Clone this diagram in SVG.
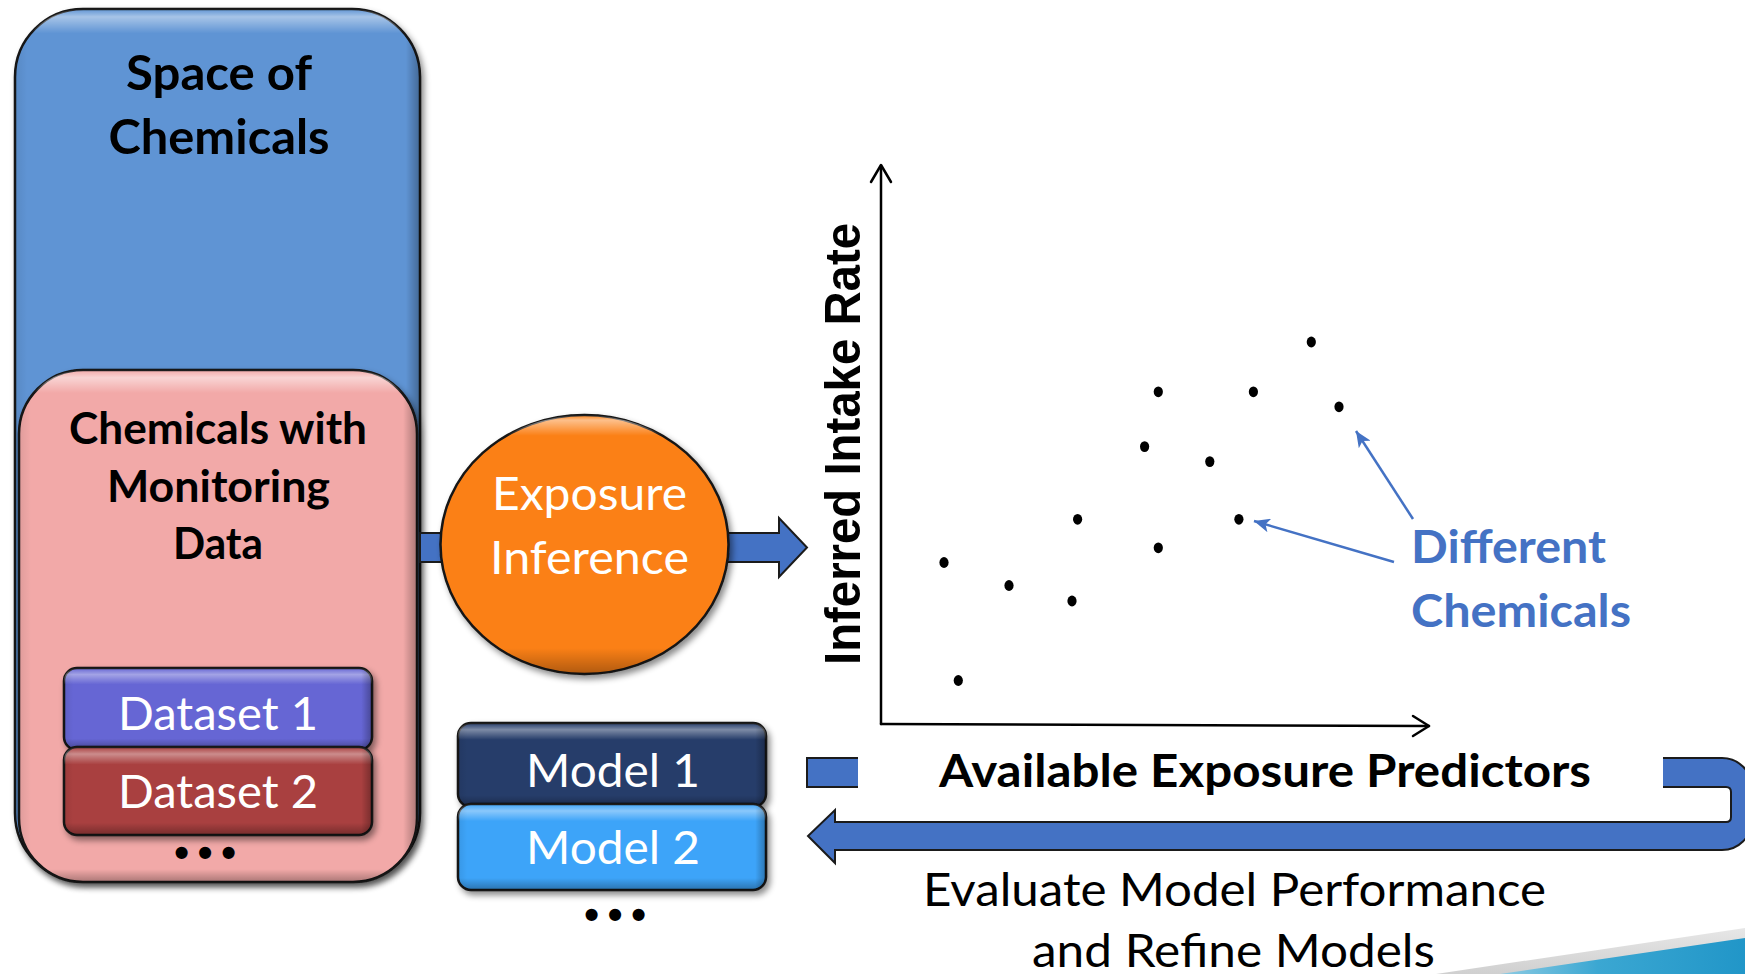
<svg xmlns="http://www.w3.org/2000/svg" width="1745" height="974" viewBox="0 0 1745 974">
<defs>
<style>
.t{font-family:Lato,"Open Sans","Liberation Sans",sans-serif}
.b{font-weight:700}
.w{fill:#ffffff}
.k{fill:#000000}
.more{font-family:"Liberation Sans",Arial,sans-serif;font-weight:700;font-size:42px;letter-spacing:8.8px;fill:#000}
.box{stroke:#151515;stroke-width:2.5}
.ax{fill:none;stroke:#000;stroke-width:2.5;stroke-linecap:round;stroke-linejoin:round}
.arr{fill:#4472C4;stroke:#1b1b1b;stroke-width:2;stroke-linejoin:miter}
.ann{fill:none;stroke:#4472C4;stroke-width:2.5}
.dot{fill:#000}
</style>
<filter id="sh" x="-10%" y="-10%" width="125%" height="125%">
<feDropShadow dx="3" dy="4" stdDeviation="3" flood-color="#000" flood-opacity="0.45"/>
</filter>
<linearGradient id="gTall" x1="0" y1="0" x2="0" y2="1">
<stop offset="0" stop-color="#fff" stop-opacity="0"/>
<stop offset="0.009" stop-color="#fff" stop-opacity="0.45"/>
<stop offset="0.028" stop-color="#fff" stop-opacity="0"/>
<stop offset="0.985" stop-color="#000" stop-opacity="0"/>
<stop offset="1" stop-color="#000" stop-opacity="0.3"/>
</linearGradient>
<linearGradient id="gMid" x1="0" y1="0" x2="0" y2="1">
<stop offset="0" stop-color="#fff" stop-opacity="0"/>
<stop offset="0.015" stop-color="#fff" stop-opacity="0.5"/>
<stop offset="0.045" stop-color="#fff" stop-opacity="0"/>
<stop offset="0.975" stop-color="#000" stop-opacity="0"/>
<stop offset="1" stop-color="#000" stop-opacity="0.3"/>
</linearGradient>
<linearGradient id="gShort" x1="0" y1="0" x2="0" y2="1">
<stop offset="0" stop-color="#fff" stop-opacity="0"/>
<stop offset="0.08" stop-color="#fff" stop-opacity="0.4"/>
<stop offset="0.2" stop-color="#fff" stop-opacity="0"/>
<stop offset="0.86" stop-color="#000" stop-opacity="0"/>
<stop offset="1" stop-color="#000" stop-opacity="0.3"/>
</linearGradient>
<linearGradient id="gR" x1="0" y1="0" x2="1" y2="0">
<stop offset="0" stop-color="#000" stop-opacity="0.08"/>
<stop offset="0.03" stop-color="#000" stop-opacity="0"/>
<stop offset="0.965" stop-color="#000" stop-opacity="0"/>
<stop offset="1" stop-color="#000" stop-opacity="0.3"/>
</linearGradient>
<linearGradient id="gEll" x1="0" y1="0" x2="0" y2="1">
<stop offset="0" stop-color="#fff" stop-opacity="0"/>
<stop offset="0.02" stop-color="#fff" stop-opacity="0.5"/>
<stop offset="0.08" stop-color="#fff" stop-opacity="0"/>
<stop offset="0.9" stop-color="#000" stop-opacity="0"/>
<stop offset="1" stop-color="#000" stop-opacity="0.3"/>
</linearGradient>
<linearGradient id="gTeal" x1="1500" y1="0" x2="1745" y2="0" gradientUnits="userSpaceOnUse">
<stop offset="0" stop-color="#8CCBE3"/>
<stop offset="0.4" stop-color="#3BA7D2"/>
<stop offset="1" stop-color="#2196C8"/>
</linearGradient>
<linearGradient id="gGrey" x1="0" y1="930" x2="0" y2="974" gradientUnits="userSpaceOnUse">
<stop offset="0" stop-color="#E6E6E6"/>
<stop offset="1" stop-color="#D0D0D0"/>
</linearGradient>
<marker id="ah" markerUnits="userSpaceOnUse" markerWidth="18" markerHeight="14" refX="16" refY="7" orient="auto">
<path d="M0,0 L16,7 L0,14 L4,7 Z" fill="#4472C4"/>
</marker>
</defs>

<g id="space-of-chemicals">
<rect class="box" x="15" y="9" width="405" height="872" rx="68" fill="#5F94D4" filter="url(#sh)"/>
<rect x="15" y="9" width="405" height="872" rx="68" fill="url(#gTall)"/>
<rect x="15" y="9" width="405" height="872" rx="68" fill="url(#gR)"/>
<text class="t b k" font-size="48" text-anchor="middle" x="219" y="90" textLength="186" lengthAdjust="spacingAndGlyphs">Space of</text>
<text class="t b k" font-size="48" text-anchor="middle" x="219" y="154" textLength="221" lengthAdjust="spacingAndGlyphs">Chemicals</text>
</g>

<g id="monitoring-data">
<rect class="box" x="19" y="370" width="398" height="512" rx="64" fill="#F2A9A8" filter="url(#sh)"/>
<rect x="19" y="370" width="398" height="512" rx="64" fill="url(#gMid)"/>
<rect x="19" y="370" width="398" height="512" rx="64" fill="url(#gR)"/>
<text class="t b k" font-size="43" text-anchor="middle" x="218" y="444" textLength="298" lengthAdjust="spacingAndGlyphs">Chemicals with</text>
<text class="t b k" font-size="43" text-anchor="middle" x="218.5" y="502" textLength="223" lengthAdjust="spacingAndGlyphs">Monitoring</text>
<text class="t b k" font-size="43" text-anchor="middle" x="218" y="559" textLength="90" lengthAdjust="spacingAndGlyphs">Data</text>
</g>

<g id="dataset-1">
<rect class="box" x="64" y="668" width="308" height="82" rx="13" fill="#6666D4" filter="url(#sh)"/>
<rect x="64" y="668" width="308" height="82" rx="13" fill="url(#gShort)"/>
<rect x="64" y="668" width="308" height="82" rx="13" fill="url(#gR)"/>
<text class="t w" font-size="46" text-anchor="middle" x="218" y="730" textLength="200" lengthAdjust="spacingAndGlyphs">Dataset 1</text>
</g>

<g id="dataset-2">
<rect class="box" x="64" y="747" width="308" height="88" rx="13" fill="#A94141" filter="url(#sh)"/>
<rect x="64" y="747" width="308" height="88" rx="13" fill="url(#gShort)"/>
<rect x="64" y="747" width="308" height="88" rx="13" fill="url(#gR)"/>
<text class="t w" font-size="46" text-anchor="middle" x="218" y="808" textLength="200" lengthAdjust="spacingAndGlyphs">Dataset 2</text>
</g>

<g id="dataset-more">
<text class="more" text-anchor="middle" x="209.4" y="867">•••</text>
</g>

<g id="connectors">
<path id="to-plot" class="arr" d="M420 533 L779 533 L779 518 L807 547.5 L779 577 L779 562 L420 562 Z"/>
<path id="feedback" class="arr" d="M807 758 L1722 758 A30 30 0 0 1 1752 788 L1752 820 A30 30 0 0 1 1722 850 L835 850 L835 863 L808 836 L835 810 L835 822 L1726 822 Q1731 822 1731 817 L1731 792 Q1731 787 1726 787 L807 787 Z"/>
<line id="ann-1" class="ann" x1="1394" y1="562" x2="1254" y2="521" marker-end="url(#ah)"/>
<line id="ann-2" class="ann" x1="1413" y1="519" x2="1356" y2="431" marker-end="url(#ah)"/>
</g>

<g id="exposure-inference">
<ellipse class="box" cx="584.5" cy="544.5" rx="144" ry="129.5" fill="#FB8016" stroke-width="2" filter="url(#sh)"/>
<ellipse cx="584.5" cy="544.5" rx="144" ry="129.5" fill="url(#gEll)"/>
<text class="t w" font-size="46" text-anchor="middle" x="589.5" y="510" textLength="195" lengthAdjust="spacingAndGlyphs">Exposure</text>
<text class="t w" font-size="46" text-anchor="middle" x="589.5" y="574" textLength="199" lengthAdjust="spacingAndGlyphs">Inference</text>
</g>

<g id="model-1">
<rect class="box" x="458" y="723" width="308" height="84" rx="13" fill="#263E6B" filter="url(#sh)"/>
<rect x="458" y="723" width="308" height="84" rx="13" fill="url(#gShort)"/>
<rect x="458" y="723" width="308" height="84" rx="13" fill="url(#gR)"/>
<text class="t w" font-size="46" text-anchor="middle" x="613" y="787" textLength="174" lengthAdjust="spacingAndGlyphs">Model 1</text>
</g>

<g id="model-2">
<rect class="box" x="458" y="804" width="308" height="86" rx="13" fill="#3DA4F9" filter="url(#sh)"/>
<rect x="458" y="804" width="308" height="86" rx="13" fill="url(#gShort)"/>
<rect x="458" y="804" width="308" height="86" rx="13" fill="url(#gR)"/>
<text class="t w" font-size="46" text-anchor="middle" x="613" y="864" textLength="174" lengthAdjust="spacingAndGlyphs">Model 2</text>
</g>

<g id="model-more">
<text class="more" text-anchor="middle" x="619.4" y="929">•••</text>
</g>

<g id="scatter-plot">
<path class="ax" d="M881 724 L881 166"/>
<path class="ax" d="M871 182 L881 165 L891 182"/>
<path class="ax" d="M881 724 L1429 726"/>
<path class="ax" d="M1413 716 L1429 726 L1413 736"/>
<text font-family="'Liberation Sans',Arial,sans-serif" font-weight="700" font-size="50" text-anchor="middle" transform="translate(860 444) rotate(-90)" textLength="442" lengthAdjust="spacingAndGlyphs">Inferred Intake Rate</text>
<ellipse class="dot" cx="944" cy="562.5" rx="4.6" ry="5.4"/>
<ellipse class="dot" cx="1009" cy="585.5" rx="4.6" ry="5.4"/>
<ellipse class="dot" cx="1072" cy="601" rx="4.6" ry="5.4"/>
<ellipse class="dot" cx="958.3" cy="680.5" rx="4.6" ry="5.4"/>
<ellipse class="dot" cx="1077.6" cy="519.3" rx="4.6" ry="5.4"/>
<ellipse class="dot" cx="1158.3" cy="547.8" rx="4.6" ry="5.4"/>
<ellipse class="dot" cx="1144.6" cy="446.6" rx="4.6" ry="5.4"/>
<ellipse class="dot" cx="1158.3" cy="391.8" rx="4.6" ry="5.4"/>
<ellipse class="dot" cx="1209.8" cy="461.6" rx="4.6" ry="5.4"/>
<ellipse class="dot" cx="1238.9" cy="519.3" rx="4.6" ry="5.4"/>
<ellipse class="dot" cx="1253.4" cy="391.8" rx="4.6" ry="5.4"/>
<ellipse class="dot" cx="1311.3" cy="342" rx="4.6" ry="5.4"/>
<ellipse class="dot" cx="1339" cy="406.8" rx="4.6" ry="5.4"/>
</g>

<g id="different-chemicals">
<text class="t b" fill="#4472C4" font-size="46" x="1411" y="563" textLength="195" lengthAdjust="spacingAndGlyphs">Different</text>
<text class="t b" fill="#4472C4" font-size="46" x="1411" y="627" textLength="220" lengthAdjust="spacingAndGlyphs">Chemicals</text>
</g>

<g id="available-exposure-predictors">
<rect x="858" y="751" width="805" height="44" fill="#ffffff"/>
<text class="t b k" font-size="46" x="939" y="787" textLength="652" lengthAdjust="spacingAndGlyphs">Available Exposure Predictors</text>
</g>

<g id="evaluate-label">
<text class="t k" font-size="46" text-anchor="middle" x="1234.5" y="906" textLength="623" lengthAdjust="spacingAndGlyphs">Evaluate Model Performance</text>
<text class="t k" font-size="46" text-anchor="middle" x="1233.5" y="967" textLength="403" lengthAdjust="spacingAndGlyphs">and Refine Models</text>
</g>

<g id="corner-decoration">
<polygon points="1436,974 1745,928 1745,974" fill="url(#gGrey)"/>
<polygon points="1500,974 1745,938 1745,974" fill="url(#gTeal)"/>
</g>
</svg>
